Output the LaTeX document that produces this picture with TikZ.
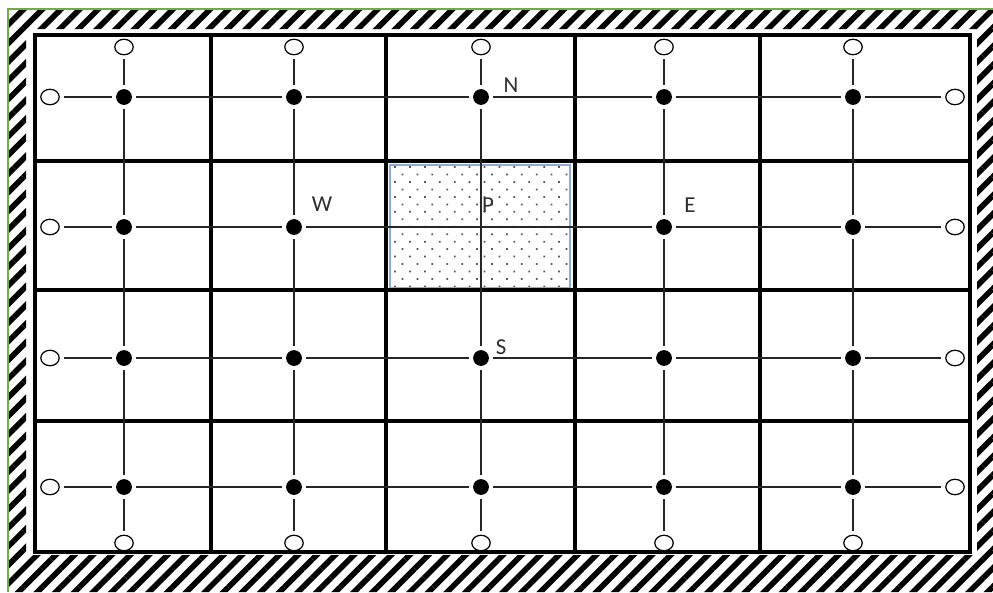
\documentclass[tikz,border=0pt]{standalone}
\usepackage{fontspec}
\setsansfont{Carlito}
\usepackage{xcolor}
\usetikzlibrary{patterns.meta}
\usetikzlibrary{shapes.geometric}

\definecolor{wallgreen}{HTML}{70AD47}
\definecolor{cellblue}{HTML}{8EAADB}
\definecolor{labelgray}{HTML}{2E2E2E}

\tikzset{
	solid node/.style={circle, fill=black, inner sep=0pt, minimum size=9pt, outer sep=2.6pt},
	open node/.style={ellipse, draw=black, line width=0.7pt, fill=white, inner sep=0pt,
		minimum width=10.5pt, minimum height=8.8pt, outer sep=2.6pt},
	cv line/.style={line width=2.5pt},
	link/.style={line width=0.8pt, draw=black!85},
	lbl/.style={font=\sffamily\fontsize{13}{15}\selectfont, text=labelgray, inner sep=0pt}
}

\begin{document}
\begin{tikzpicture}[x=0.02cm, y=-0.02cm]
		\useasboundingbox (0,0) rectangle (993,592);
		% wall
		\fill[even odd rule, pattern={Lines[angle=45, distance=7.5pt, line width=3.2pt]}]
			(8,10) rectangle (993,592) (26,29) rectangle (977,555);
		\draw[wallgreen, line width=1.2pt] (8,592) -- (8,9) -- (993,9);
		% cell P
		\draw[draw=cellblue, line width=0.8pt,
			pattern={Dots[angle=45, distance=6pt, radius=0.7pt]}, pattern color=black!65]
			(390,165) rectangle (570,288);
		% control volumes
		\draw[cv line] (35,35) rectangle (970,552);
		\foreach \x in {211,386,575,760} \draw[cv line] (\x,35) -- (\x,552);
		\foreach \y in {161,290,421} \draw[cv line] (35,\y) -- (970,\y);
		% boundary and grid nodes
		\foreach \c/\x in {1/124,2/294,3/481,4/664,5/853} {
			\node[open node] (t\c) at (\x,47) {};
			\node[open node] (b\c) at (\x,543) {};
		}
		\foreach \r/\y in {1/97,2/227,3/358,4/487} {
			\node[open node] (l\r) at (50,\y) {};
			\node[open node] (r\r) at (955,\y) {};
			\foreach \c/\x in {1/124,2/294,3/481,4/664,5/853} {
				\ifnum\r\c=23
					\coordinate[alias=p] (d\r\c) at (\x,\y);
				\else
					\node[solid node] (d\r\c) at (\x,\y) {};
				\fi
			}
		}
		\foreach \r in {1,...,4}
			\draw[link] (l\r) -- (d\r1) -- (d\r2) -- (d\r3) -- (d\r4) -- (d\r5) -- (r\r);
		\foreach \c in {1,...,5}
			\draw[link] (t\c) -- (d1\c) -- (d2\c) -- (d3\c) -- (d4\c) -- (b\c);
		% labels
		\node[lbl] (lN) at (511,85) {N};
		\node[lbl] (lW) at (322,204) {W};
		\node[lbl] (lP) at (488,205) {P};
		\node[lbl] (lE) at (690,205) {E};
		\node[lbl] (lS) at (501,347) {S};
	\end{tikzpicture}
\end{document}
